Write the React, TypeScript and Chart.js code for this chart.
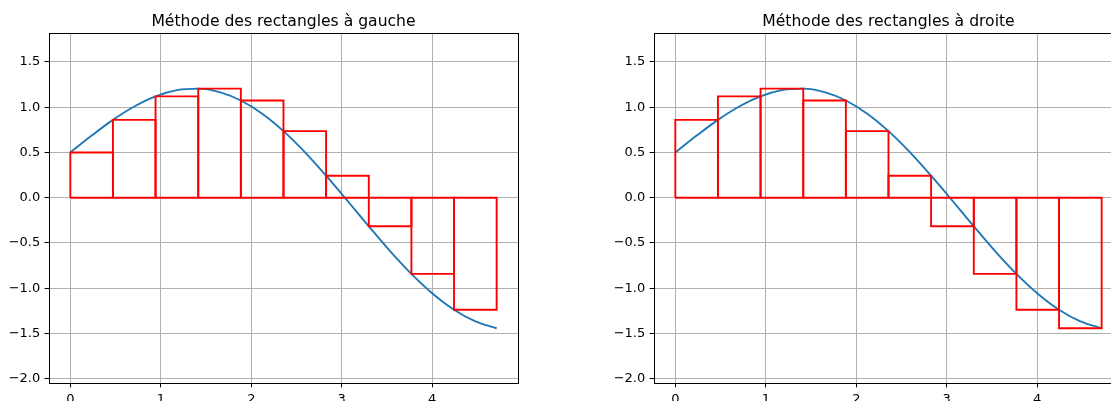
import React, { useEffect, useRef } from 'react';
import { Chart, registerables } from 'chart.js';

Chart.register(...registerables);

// Curve samples
const curveX = [0, 0.236, 0.471, 0.707, 0.942, 1.178, 1.414, 1.649, 1.885, 2.121, 2.356, 2.592, 2.827, 3.063, 3.299, 3.534, 3.77, 4.006, 4.241, 4.477, 4.712];
const curveY = [0.5, 0.686, 0.86, 1.008, 1.12, 1.188, 1.205, 1.167, 1.074, 0.928, 0.736, 0.504, 0.243, -0.034, -0.316, -0.59, -0.842, -1.062, -1.239, -1.368, -1.443];

// Subdivision edges and rectangle heights
const edges = [0, 0.471, 0.942, 1.414, 1.885, 2.356, 2.827, 3.299, 3.77, 4.241, 4.712];
const leftHeights = [0.5, 0.86, 1.12, 1.205, 1.074, 0.736, 0.243, -0.316, -0.842, -1.239];
const rightHeights = [0.86, 1.12, 1.205, 1.074, 0.736, 0.243, -0.316, -0.842, -1.239, -1.443];

// Tick labels
const xTicks = [0, 1, 2, 3, 4];
const yTicks = [-2, -1.5, -1, -0.5, 0, 0.5, 1, 1.5];

const titleLeft = 'Méthode des rectangles à gauche';
const titleRight = 'Méthode des rectangles à droite';

const FONT = '"DejaVu Sans", sans-serif';

function fmtY(v: number) {
  const s = Math.abs(v).toFixed(1);
  return v < 0 ? '\u2212' + s : s;
}

type PanelProps = {
  left: number;
  width: number;
  areaLeft: number;
  areaRight: number;
  title: string;
  heights: number[];
};

function Panel({ left, width, areaLeft, areaRight, title, heights }: PanelProps) {
  const ref = useRef<HTMLCanvasElement | null>(null);

  useEffect(() => {
    if (!ref.current) return;
    const rects = heights.map((h, i) => {
      const a = edges[i];
      const b = edges[i + 1];
      return {
        data: [
          { x: a, y: 0 },
          { x: a, y: h },
          { x: b, y: h },
          { x: b, y: 0 },
          { x: a, y: 0 },
        ],
        showLine: true,
        borderColor: '#ff0000',
        backgroundColor: '#ff0000',
        borderWidth: 1.9,
        pointRadius: 0,
        tension: 0,
        fill: false,
        order: 0,
      };
    });
    const curve = {
      data: curveX.map((x, i) => ({ x, y: curveY[i] })),
      showLine: true,
      borderColor: '#1f77b4',
      backgroundColor: '#1f77b4',
      borderWidth: 1.9,
      pointRadius: 0,
      cubicInterpolationMode: 'monotone' as const,
      fill: false,
      order: 1,
    };

    const framePlugin = {
      id: 'frameTitle',
      afterDraw(chart: any) {
        const { ctx, chartArea } = chart;
        ctx.save();
        ctx.strokeStyle = '#000';
        ctx.lineWidth = 1;
        const l = Math.round(chartArea.left) + 0.5;
        const t = Math.round(chartArea.top) + 0.5;
        const r = Math.round(chartArea.right) + 0.5;
        const b = Math.round(chartArea.bottom) + 0.5;
        ctx.strokeRect(l, t, r - l, b - t);
        ctx.fillStyle = '#000';
        ctx.font = '15.6px ' + FONT;
        ctx.textAlign = 'center';
        ctx.textBaseline = 'alphabetic';
        ctx.fillText(title, (chartArea.left + chartArea.right) / 2, 26);
        ctx.restore();
      },
    };

    const chart = new Chart(ref.current, {
      type: 'scatter',
      data: { datasets: [...rects, curve] as any },
      options: {
        animation: false,
        responsive: false,
        maintainAspectRatio: false,
        events: [],
        layout: { padding: { top: 33, right: width - areaRight, bottom: 0, left: 0 } },
        plugins: { legend: { display: false }, tooltip: { enabled: false }, title: { display: false } },
        scales: {
          x: {
            type: 'linear',
            min: -0.2356,
            max: 4.948,
            afterBuildTicks: (scale: any) => {
              scale.ticks = xTicks.map((v) => ({ value: v }));
            },
            afterFit: (scale: any) => {
              scale.height = 18;
            },
            border: { display: false },
            grid: { color: '#b0b0b0', lineWidth: 1, tickColor: '#000', tickLength: 4.4, drawTicks: true },
            ticks: {
              padding: 4.4,
              color: '#000',
              font: { family: FONT, size: 13 },
              maxRotation: 0,
              autoSkip: false,
              callback: (v: any) => String(v),
            },
          },
          y: {
            type: 'linear',
            min: -2.048,
            max: 1.82,
            afterBuildTicks: (scale: any) => {
              scale.ticks = yTicks.map((v) => ({ value: v }));
            },
            afterFit: (scale: any) => {
              scale.width = areaLeft;
            },
            border: { display: false },
            grid: { color: '#b0b0b0', lineWidth: 1, tickColor: '#000', tickLength: 4.4, drawTicks: true },
            ticks: {
              padding: 4.4,
              color: '#000',
              font: { family: FONT, size: 13 },
              autoSkip: false,
              callback: (v: any) => fmtY(Number(v)),
            },
          },
        },
      } as any,
      plugins: [framePlugin],
    });
    return () => chart.destroy();
  }, []);

  return (
    <canvas
      ref={ref}
      width={width}
      height={401}
      style={{ position: 'absolute', left, top: 0, width, height: 401 }}
    />
  );
}

export default function App() {
  return (
    <div
      style={{
        position: 'fixed',
        left: 0,
        top: 0,
        width: 1111,
        height: 401,
        overflow: 'hidden',
        background: '#fff',
      }}
    >
      <Panel left={0} width={540} areaLeft={49} areaRight={518} title={titleLeft} heights={leftHeights} />
      <Panel left={605} width={528} areaLeft={49} areaRight={518} title={titleRight} heights={rightHeights} />
    </div>
  );
}
